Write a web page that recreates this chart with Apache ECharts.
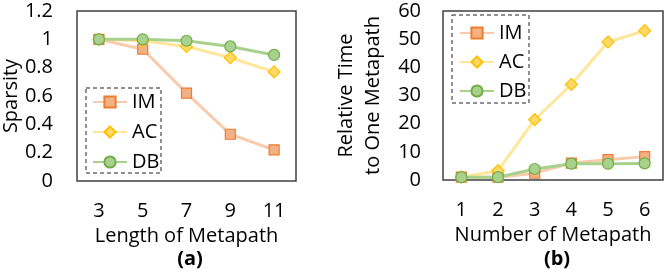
<!DOCTYPE html>
<html><head><meta charset="utf-8">
<script src="https://cdn.jsdelivr.net/npm/echarts@6/dist/echarts.min.js"></script>
<style>html,body{margin:0;padding:0;background:#fff}#c{width:665px;height:273px}</style>
</head><body><div id="c"></div>
<script>
// ---- data ----
const lengthCats = ['3', '5', '7', '9', '11'];
const sparsityIM = [1.0, 0.93, 0.62, 0.33, 0.22];
const sparsityAC = [1.0, 0.99, 0.95, 0.87, 0.77];
const sparsityDB = [1.0, 1.0, 0.99, 0.95, 0.89];

const numberCats = ['1', '2', '3', '4', '5', '6'];
const timeIM = [1.0, 1.0, 2.4, 6.0, 7.2, 8.3];
const timeAC = [1.0, 3.3, 21.4, 33.9, 49.0, 53.0];
const timeDB = [1.0, 1.0, 3.9, 5.8, 5.8, 5.9];

const seriesNames = ['IM', 'AC', 'DB'];
// ---- styling ----
const FONT = 'Open Sans';
const FS = 20;
const styles = {
  IM: {line: '#F8CBAD', fill: '#F4B183', border: '#ED7D31', symbol: 'rect', size: 10},
  AC: {line: '#FFE699', fill: '#FFD966', border: '#FFC000', symbol: 'diamond', size: 12},
  DB: {line: '#A9D18E', fill: '#A9D18E', border: '#70AD47', symbol: 'circle', size: 11}
};
function mk(name, data, idx) {
  const s = styles[name];
  return {
    name: name, type: 'line', data: data, xAxisIndex: idx, yAxisIndex: idx,
    symbol: s.symbol, symbolSize: s.size,
    lineStyle: {color: s.line, width: 3},
    itemStyle: {color: s.fill, borderColor: s.border, borderWidth: 1.2},
    emphasis: {disabled: true}, animation: false
  };
}
const txt = {fontFamily: FONT, fontSize: FS, color: '#000'};
const chart = echarts.init(document.getElementById('c'), null, {renderer: 'canvas'});
chart.setOption({
  animation: false,
  grid: [
    {left: 77, top: 11, width: 219, height: 170, show: true, borderColor: '#404040', borderWidth: 1.5},
    {left: 443, top: 11, width: 220, height: 169, show: true, borderColor: '#404040', borderWidth: 1.5}
  ],
  xAxis: [
    {type: 'category', gridIndex: 0, data: lengthCats, boundaryGap: true,
     axisLine: {show: false}, axisTick: {show: false}, splitLine: {show: false},
     axisLabel: Object.assign({margin: 20}, txt),
     name: 'Length of Metapath', nameLocation: 'middle', nameGap: 43, nameTextStyle: txt},
    {type: 'category', gridIndex: 1, data: numberCats, boundaryGap: true,
     axisLine: {show: false}, axisTick: {show: false}, splitLine: {show: false},
     axisLabel: Object.assign({margin: 20}, txt),
     name: 'Number of Metapath', nameLocation: 'middle', nameGap: 43, nameTextStyle: txt}
  ],
  yAxis: [
    {type: 'value', gridIndex: 0, min: 0, max: 1.2, interval: 0.2,
     axisLine: {show: false}, axisTick: {show: false}, splitLine: {show: false},
     axisLabel: Object.assign({margin: 24}, txt),
     name: 'Sparsity', nameLocation: 'middle', nameGap: 56, nameTextStyle: txt},
    {type: 'value', gridIndex: 1, min: 0, max: 60, interval: 10,
     axisLine: {show: false}, axisTick: {show: false}, splitLine: {show: false},
     axisLabel: Object.assign({margin: 22}, txt),
     name: 'Relative Time\nto One Metapath', nameLocation: 'middle', nameGap: 56,
     nameTextStyle: Object.assign({lineHeight: 27}, txt)}
  ],
  title: [
    {text: '(a)', left: 185, top: 244, textAlign: 'center',
     textStyle: {fontFamily: FONT, fontSize: FS, fontWeight: 'bold', color: '#000'}},
    {text: '(b)', left: 552, top: 244, textAlign: 'center',
     textStyle: {fontFamily: FONT, fontSize: FS, fontWeight: 'bold', color: '#000'}}
  ],
  legend: [
    {data: seriesNames, orient: 'vertical', left: 92, top: 92, itemWidth: 34, itemHeight: 14,
     itemGap: 10, padding: 0, textStyle: txt, selectedMode: false},
    {data: seriesNames, orient: 'vertical', left: 459, top: 23, itemWidth: 34, itemHeight: 14,
     itemGap: 9, padding: 0, textStyle: txt, selectedMode: false}
  ],
  graphic: [
    {type: 'rect', shape: {x: 86, y: 88, width: 75, height: 85},
     style: {fill: 'none', stroke: '#222', lineWidth: 1, lineDash: [4, 3]}, z: 10},
    {type: 'rect', shape: {x: 452, y: 15, width: 77, height: 88},
     style: {fill: 'none', stroke: '#222', lineWidth: 1, lineDash: [4, 3]}, z: 10}
  ],
  series: [
    mk('IM', sparsityIM, 0), mk('AC', sparsityAC, 0), mk('DB', sparsityDB, 0),
    mk('IM', timeIM, 1), mk('AC', timeAC, 1), mk('DB', timeDB, 1)
  ]
});
</script></body></html>
